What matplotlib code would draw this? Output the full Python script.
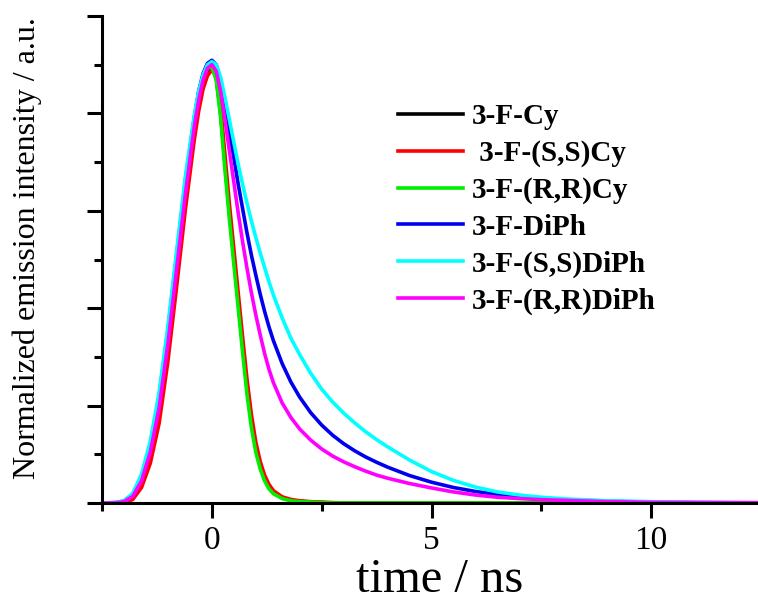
import matplotlib
matplotlib.use("Agg")
import matplotlib.pyplot as plt
from matplotlib.ticker import MultipleLocator, NullFormatter

plt.rcParams["font.family"] = ["Liberation Serif", "DejaVu Serif"]

# time axis (ns), shared by all decays
time_ns = [-2.5, -2.2, -2.0, -1.8, -1.6, -1.4, -1.2, -1.0, -0.8, -0.6,
           -0.4, -0.3, -0.2, -0.1, 0.0,
           0.1, 0.2, 0.3, 0.4, 0.5, 0.6, 0.7, 0.8, 0.9, 1.0, 1.1, 1.2, 1.3, 1.4,
           1.6, 1.8, 2.0,
           2.25, 2.5, 2.75, 3.0, 3.25, 3.5, 3.75, 4.0,
           4.5, 5.0, 5.5, 6.0, 6.5, 7.0, 7.5, 8.0,
           9.0, 10.0, 11.0, 12.5]

cy = [0.0, 0.0, 0.001, 0.012, 0.045, 0.105, 0.205, 0.35, 0.52, 0.695,
      0.845, 0.905, 0.95, 0.975, 0.985,
      0.96, 0.88, 0.765, 0.655, 0.555, 0.455, 0.355, 0.26, 0.185, 0.125, 0.085, 0.056, 0.037, 0.024,
      0.012, 0.006, 0.004,
      0.002, 0.001, 0.0, 0.0, 0.0, 0.0, 0.0, 0.0,
      0.0, 0.0, 0.0, 0.0, 0.0, 0.0, 0.0, 0.0,
      0.0, 0.0, 0.0, 0.0]
ss_cy = [0.0, 0.0, 0.0, 0.008, 0.035, 0.09, 0.18, 0.32, 0.49, 0.665,
         0.82, 0.885, 0.935, 0.965, 0.978,
         0.965, 0.895, 0.785, 0.675, 0.575, 0.475, 0.375, 0.28, 0.2, 0.138, 0.094, 0.063, 0.042, 0.028,
         0.014, 0.008, 0.005,
         0.003, 0.002, 0.001, 0.0, 0.0, 0.0, 0.0, 0.0,
         0.0, 0.0, 0.0, 0.0, 0.0, 0.0, 0.0, 0.0,
         0.0, 0.0, 0.0, 0.0]
rr_cy = [0.0, 0.0, 0.002, 0.018, 0.055, 0.125, 0.235, 0.385, 0.555, 0.725,
         0.865, 0.925, 0.962, 0.982, 0.985,
         0.955, 0.87, 0.75, 0.64, 0.54, 0.44, 0.34, 0.245, 0.17, 0.115, 0.077, 0.05, 0.032, 0.021,
         0.01, 0.005, 0.003,
         0.002, 0.001, 0.0, 0.0, 0.0, 0.0, 0.0, 0.0,
         0.0, 0.0, 0.0, 0.0, 0.0, 0.0, 0.0, 0.0,
         0.0, 0.0, 0.0, 0.0]
diph = [0.0, 0.001, 0.004, 0.02, 0.06, 0.133, 0.24, 0.39, 0.56, 0.73,
        0.87, 0.93, 0.97, 0.993, 1.0,
        0.99, 0.955, 0.9, 0.84, 0.78, 0.72, 0.665, 0.61, 0.56, 0.515, 0.472, 0.433, 0.398, 0.367,
        0.315, 0.273, 0.239,
        0.204, 0.176, 0.153, 0.134, 0.118, 0.104, 0.092, 0.081,
        0.062, 0.047, 0.035, 0.026, 0.019, 0.014, 0.01, 0.0075,
        0.004, 0.002, 0.001, 0.0005]
ss_diph = [0.0, 0.001, 0.005, 0.022, 0.065, 0.14, 0.25, 0.40, 0.57, 0.74,
           0.875, 0.93, 0.967, 0.99, 0.997,
           0.99, 0.962, 0.915, 0.865, 0.815, 0.765, 0.72, 0.677, 0.637, 0.6, 0.565, 0.532, 0.5, 0.47,
           0.418, 0.372, 0.335,
           0.293, 0.257, 0.228, 0.203, 0.181, 0.161, 0.143, 0.127,
           0.097, 0.071, 0.051, 0.036, 0.025, 0.018, 0.013, 0.0095,
           0.005, 0.003, 0.0015, 0.0007]
rr_diph = [0.0, 0.0, 0.003, 0.015, 0.05, 0.115, 0.215, 0.36, 0.53, 0.70,
           0.85, 0.91, 0.955, 0.982, 0.99,
           0.975, 0.93, 0.865, 0.795, 0.725, 0.655, 0.59, 0.53, 0.475, 0.425, 0.38, 0.338, 0.302, 0.272,
           0.226, 0.193, 0.167,
           0.142, 0.122, 0.106, 0.093, 0.082, 0.072, 0.063, 0.056,
           0.044, 0.034, 0.025, 0.018, 0.013, 0.01, 0.0075, 0.006,
           0.003, 0.0015, 0.001, 0.0005]

labels = ["3-F-Cy", " 3-F-(S,S)Cy", "3-F-(R,R)Cy", "3-F-DiPh", "3-F-(S,S)DiPh", "3-F-(R,R)DiPh"]
colors = ["black", "#ff0000", "#00ee00", "#0000ee", "#00ffff", "#ff00ff"]
series = [cy, ss_cy, rr_cy, diph, ss_diph, rr_diph]

fig = plt.figure(figsize=(7.58, 6.02), dpi=100)
ax = fig.add_axes([102 / 758, 99 / 602, 656 / 758, 487 / 602])

for vals, lab, col in zip(series, labels, colors):
    ax.plot(time_ns, vals, color=col, lw=2.6, label=lab, solid_joinstyle="round")

ax.set_xlim(-2.5, 12.43)
ax.set_ylim(0, 1.1)
ax.xaxis.set_major_locator(MultipleLocator(5))
ax.xaxis.set_minor_locator(MultipleLocator(2.5))
ax.yaxis.set_major_locator(MultipleLocator(0.22))
ax.yaxis.set_minor_locator(MultipleLocator(0.11))
ax.yaxis.set_major_formatter(NullFormatter())

for side in ["top", "right"]:
    ax.spines[side].set_visible(False)
for side in ["left", "bottom"]:
    ax.spines[side].set_linewidth(2.2)

ax.tick_params(which="major", direction="out", length=10.5, width=2.2, labelsize=24, pad=6)
ax.tick_params(which="minor", direction="out", length=5.5, width=2.2)

ax.set_xlabel("time / ns", fontsize=35)
ax.xaxis.set_label_coords(0.515, -0.183, transform=ax.transAxes)
ax.xaxis.label.set_va("baseline")
ax.set_ylabel("Normalized emission intensity / a.u.", fontsize=23)
ax.yaxis.set_label_coords(-0.092, 0.524)

leg = ax.legend(loc="upper left", bbox_to_anchor=(0.451, 0.821), frameon=False,
                prop={"weight": "bold", "size": 21}, handlelength=2.25, handletextpad=0.3,
                labelspacing=0.33, borderpad=0, borderaxespad=0)

fig.savefig("out.png", dpi=100)
